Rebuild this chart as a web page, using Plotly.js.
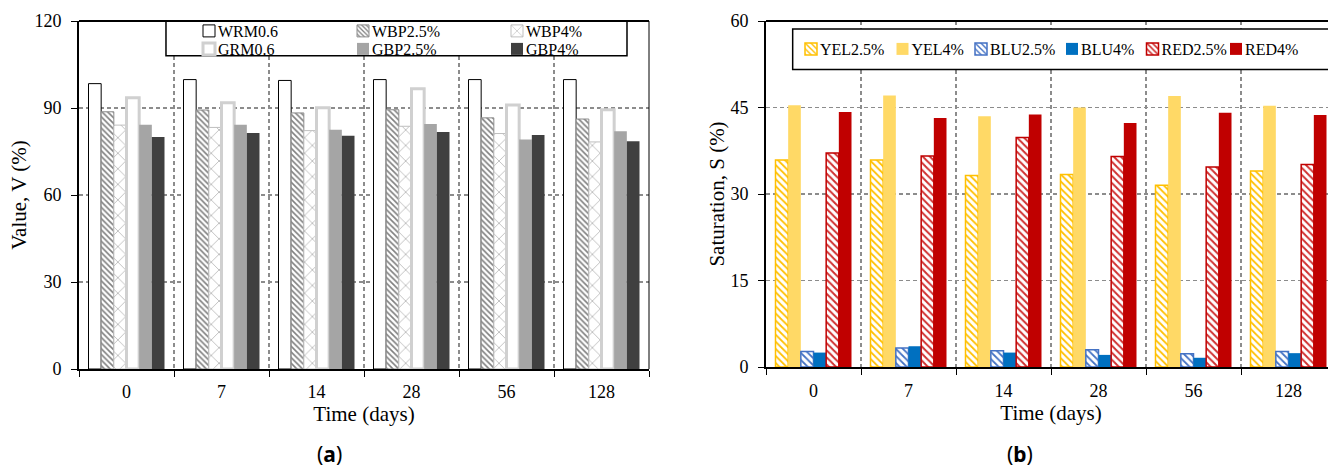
<!DOCTYPE html>
<html>
<head>
<meta charset="utf-8">
<script src="https://cdn.plot.ly/plotly-3.0.1.min.js"></script>
<style>
  html, body { margin: 0; padding: 0; background: #ffffff; overflow: hidden; width: 1328px; height: 470px; }
  #chartA { position: absolute; left: 0; top: 0; width: 664px; height: 470px; }
  #chartB { position: absolute; left: 664px; top: 0; width: 676px; height: 470px; }
  /* compact Excel-style legend: label sits close to its swatch */
  .infolayer text[class^="legend"] { transform: translateX(-11px); }
</style>
</head>
<body>
<div id="chartA"></div>
<div id="chartB"></div>
<script>
// ---------- data ----------
const days = ['0', '7', '14', '28', '56', '128'];

// Panel (a): Value, V (%)
const seriesNamesA = ['WRM0.6', 'WBP2.5%', 'WBP4%', 'GRM0.6', 'GBP2.5%', 'GBP4%'];
const wrm06 = [98.4, 99.8, 99.5, 99.8, 99.8, 99.8];
const wbp25 = [88.7, 89.3, 88.3, 89.4, 86.6, 86.2];
const wbp4  = [84.1, 83.3, 82.2, 83.7, 81.2, 78.3];
const grm06 = [93.5, 91.8, 90.1, 96.6, 91.0, 89.4];
const gbp25 = [84.2, 84.2, 82.5, 84.5, 79.1, 82.0];
const gbp4  = [80.0, 81.4, 80.4, 81.7, 80.7, 78.5];

// Panel (b): Saturation, S (%)
const seriesNamesB = ['YEL2.5%', 'YEL4%', 'BLU2.5%', 'BLU4%', 'RED2.5%', 'RED4%'];
const yel25 = [35.9, 35.9, 33.2, 33.4, 31.5, 34.0];
const yel4  = [45.4, 47.1, 43.5, 45.0, 47.0, 45.3];
const blu25 = [2.7, 3.3, 2.8, 3.0, 2.3, 2.7];
const blu4  = [2.5, 3.6, 2.5, 2.1, 1.6, 2.4];
const red25 = [37.1, 36.6, 39.8, 36.5, 34.7, 35.1];
const red4  = [44.2, 43.2, 43.8, 42.3, 44.1, 43.7];

const ticksA = [0, 30, 60, 90, 120];
const ticksB = [0, 15, 30, 45, 60];

// ---------- styles ----------
const FONT = 'Liberation Serif, Times New Roman, serif';
const GRID = '#8c8c8c';
const DASH = '4px,3px';

const stylesA = [
  { color: '#ffffff', line: { color: '#000000', width: 1 } },
  { color: '#ffffff', line: { color: '#8c8c8c', width: 1 },
    pattern: { shape: '\\', fgcolor: '#808080', bgcolor: '#ffffff', size: 4, solidity: 0.4 } },
  { color: '#ffffff', line: { color: '#bfbfbf', width: 1 },
    pattern: { shape: 'x', fgcolor: '#a6a6a6', bgcolor: '#ffffff', size: 11, solidity: 0.12 } },
  { color: '#ffffff', line: { color: '#d0d0d0', width: 3 } },
  { color: '#a5a5a5', line: { color: '#a5a5a5', width: 0 } },
  { color: '#404040', line: { color: '#404040', width: 0 } }
];
const stylesB = [
  { color: '#ffffff', line: { color: '#ffc000', width: 1.5 },
    pattern: { shape: '\\', fgcolor: '#ffc000', bgcolor: '#ffffff', size: 5, solidity: 0.35 } },
  { color: '#ffd966', line: { color: '#ffd966', width: 0 } },
  { color: '#ffffff', line: { color: '#4472c4', width: 1.5 },
    pattern: { shape: '\\', fgcolor: '#4472c4', bgcolor: '#ffffff', size: 5, solidity: 0.35 } },
  { color: '#0070c0', line: { color: '#0070c0', width: 0 } },
  { color: '#ffffff', line: { color: '#c00000', width: 1.5 },
    pattern: { shape: '\\', fgcolor: '#d03030', bgcolor: '#ffffff', size: 5, solidity: 0.4 } },
  { color: '#c00000', line: { color: '#c00000', width: 0 } }
];

const valuesA = [wrm06, wbp25, wbp4, grm06, gbp25, gbp4];
const valuesB = [yel25, yel4, blu25, blu4, red25, red4];

// legend entry widths (px) for panel (b) single row
const legendWidthsB = [46.5, 33.5, 46, 35.5, 38.5, 45];

const tracesA = valuesA.map((vals, i) => ({
  type: 'bar', x: days, y: vals, name: seriesNamesA[i],
  marker: stylesA[i],
  legend: i < 3 ? 'legend' : 'legend2',
  hoverinfo: 'skip'
}));

const tracesB = valuesB.map((vals, i) => ({
  type: 'bar', x: days, y: vals, name: seriesNamesB[i],
  marker: stylesB[i],
  legendwidth: legendWidthsB[i],
  hoverinfo: 'skip'
}));

function xAxis(lw) {
  return {
    type: 'category', tickson: 'boundaries',
    showgrid: true, gridcolor: GRID, griddash: DASH, gridwidth: 1.2,
    showline: true, linecolor: '#000000', linewidth: lw,
    ticks: 'outside', ticklen: 6, tickcolor: '#000000', tickwidth: 1,
    ticklabelstandoff: 6,
    tickfont: { family: FONT, size: 18, color: '#000000' },
    title: { text: 'Time (days)', font: { family: FONT, size: 21, color: '#000000' }, standoff: 1 },
    zeroline: false, fixedrange: true
  };
}
function yAxis(title, ticks, standoff) {
  return {
    range: [ticks[0], ticks[ticks.length - 1]], tickvals: ticks,
    showgrid: true, gridcolor: GRID, griddash: DASH, gridwidth: 1.2,
    showline: true, linecolor: '#000000', linewidth: 2,
    ticks: 'outside', ticklen: 6, tickcolor: '#000000', tickwidth: 1,
    ticklabelstandoff: 6,
    tickfont: { family: FONT, size: 18, color: '#000000' },
    title: { text: title, font: { family: FONT, size: 21, color: '#000000' }, standoff: standoff },
    zeroline: false, fixedrange: true
  };
}
function legendRow(xpx, toppx, wpx) {
  return {
    orientation: 'h', xref: 'container', yref: 'container',
    x: xpx / wpx, y: 1 - toppx / 470, xanchor: 'left', yanchor: 'top',
    bgcolor: 'rgba(0,0,0,0)', borderwidth: 0,
    font: { family: FONT, size: 16, color: '#000000' }
  };
}

const legendA1 = Object.assign(legendRow(189, 14, 664), { entrywidth: 109 });
const legendA2 = Object.assign(legendRow(189, 32, 664), { entrywidth: 109 });

const layoutA = {
  width: 664, height: 470,
  margin: { l: 79, r: 15, t: 21, b: 101, autoexpand: false },
  paper_bgcolor: '#ffffff', plot_bgcolor: '#ffffff',
  barmode: 'group', bargap: 0.2, bargroupgap: 0,
  xaxis: xAxis(1.5),
  yaxis: yAxis('Value, V (%)', ticksA, 2),
  showlegend: true,
  legend: legendA1, legend2: legendA2,
  shapes: [
    { type: 'rect', xref: 'paper', yref: 'paper', x0: 0.1526, x1: 0.9614, y0: 0.9004, y1: 1,
      line: { color: '#000000', width: 1.5 }, fillcolor: '#ffffff', layer: 'above' },
    { type: 'line', xref: 'paper', yref: 'paper', x0: 0, x1: 1, y0: 1, y1: 1,
      line: { color: '#000000', width: 2 }, layer: 'above' },
    { type: 'line', xref: 'paper', yref: 'paper', x0: 1, x1: 1, y0: 0, y1: 1,
      line: { color: '#000000', width: 1 }, layer: 'above' }
  ],
  annotations: [
    { xref: 'paper', yref: 'paper', x: 0.44, y: -0.245, xanchor: 'center', yanchor: 'middle',
      text: '(<b>a</b>)', showarrow: false, font: { family: 'Noto Sans, sans-serif', size: 21, color: '#000000' } }
  ]
};

const layoutB = {
  width: 676, height: 470,
  margin: { l: 102, r: 4, t: 21, b: 103, autoexpand: false },
  paper_bgcolor: '#ffffff', plot_bgcolor: '#ffffff',
  barmode: 'group', bargap: 0.2, bargroupgap: 0,
  xaxis: xAxis(2),
  yaxis: yAxis('Saturation, S (%)', ticksB, 0),
  showlegend: true,
  legend: legendRow(127, 32, 676),
  shapes: [
    { type: 'rect', xref: 'paper', yref: 'paper', x0: 0.0468, x1: 1.0, y0: 0.8595, y1: 0.9769,
      line: { color: '#000000', width: 1.5 }, fillcolor: '#ffffff', layer: 'above' },
    { type: 'line', xref: 'paper', yref: 'paper', x0: 0, x1: 1, y0: 1, y1: 1,
      line: { color: '#000000', width: 2 }, layer: 'above' }
  ],
  annotations: [
    { xref: 'paper', yref: 'paper', x: 0.4456, y: -0.25, xanchor: 'center', yanchor: 'middle',
      text: '(<b>b</b>)', showarrow: false, font: { family: 'Noto Sans, sans-serif', size: 21, color: '#000000' } }
  ]
};

const config = { staticPlot: true, displayModeBar: false };
Plotly.newPlot('chartA', tracesA, layoutA, config);
Plotly.newPlot('chartB', tracesB, layoutB, config);
</script>
</body>
</html>
